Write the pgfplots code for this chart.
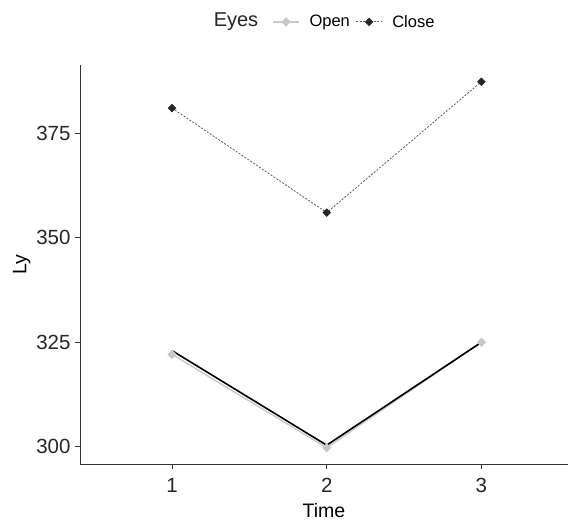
\documentclass[border=0pt]{standalone}
\usepackage{pgfplots}
\pgfplotsset{compat=1.18}
\usepackage{fontspec}
\setmainfont{Liberation Sans}
\definecolor{opengray}{HTML}{C8C8C8}
\definecolor{closeline}{HTML}{5A5A5A}
\begin{document}
\begin{tikzpicture}
\path[use as bounding box] (-80pt,-60pt) rectangle (489pt,464pt);
\begin{axis}[at={(0,0)},anchor=south west,scale only axis,width=488pt,height=399pt,
  xmin=0.405,xmax=3.56,ymin=295.9,ymax=391.3,
  axis lines=left, axis line style={-,line width=0.9pt,color=black!80},
  xtick={1,2,3}, ytick={300,325,350,375},
  tick style={color=black!80,line width=0.9pt}, tick align=outside, major tick length=5pt,
  ticklabel style={font=\fontsize{20.5}{20.5}\selectfont, color=black!85},
  xticklabel style={yshift=-6pt},
  yticklabel style={xshift=-1pt},
  /pgf/number format/assume math mode=true,
  xlabel={Time}, ylabel={Ly}, label style={font=\fontsize{19.5}{19.5}\selectfont},
  xlabel style={yshift=-3pt}, ylabel style={yshift=-1pt},
  legend columns=2,
  legend style={at={(0.5625,1.108)}, anchor=center, draw=none, fill=none,
    font=\fontsize{16.5}{16.5}\selectfont,
    /tikz/every odd column/.append style={column sep=8pt},
    /tikz/every even column/.append style={column sep=4pt}},
  legend image code/.code={\draw[mark repeat=2,mark phase=2,#1] plot coordinates {(0cm,0cm)(0.45cm,0cm)(0.9cm,0cm)};},
]
\addplot[opengray, line width=1.4pt, mark=square*, mark size=2.6pt, mark options={solid,rotate=45,fill=opengray,draw=opengray}]
  coordinates {(1,322.1) (2,299.8) (3,325.0)};
\addlegendentry{Open}
\addplot[closeline, line width=0.8pt, dash pattern=on 2pt off 1.5pt, mark=square*, mark size=2.6pt, mark options={solid,rotate=45,fill=black!85,draw=black!85}]
  coordinates {(1,381.0) (2,356.0) (3,387.3)};
\addlegendentry{Close}
\addplot[black, line width=1.6pt, forget plot]
  coordinates {(1,323.0) (2,300.4) (3,325.0)};
\end{axis}
\node[font=\fontsize{20}{20}\selectfont, text=black!85] at (156pt,442pt) {Eyes};
\end{tikzpicture}
\end{document}
